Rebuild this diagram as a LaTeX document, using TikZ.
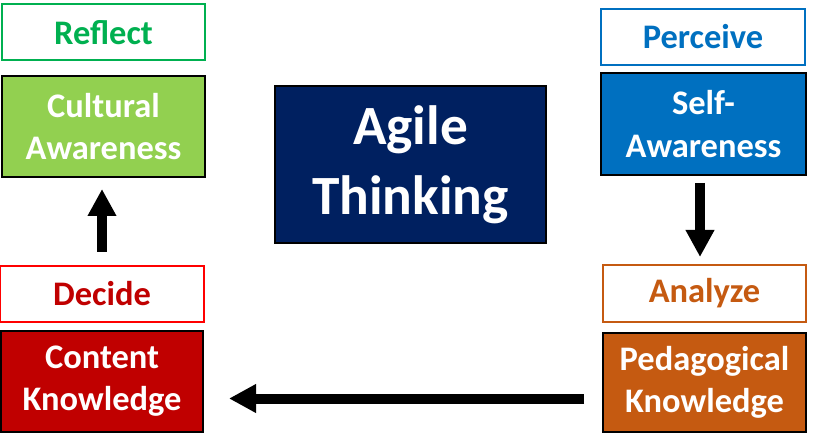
\documentclass[tikz,border=0pt]{standalone}
\usepackage{fontspec}
\setmainfont{Carlito}
\usetikzlibrary{positioning, arrows.meta}
\definecolor{greenEdge}{RGB}{0,176,80}
\definecolor{limeFill}{RGB}{146,208,80}
\definecolor{redDeep}{RGB}{192,0,0}
\definecolor{redEdge}{RGB}{255,0,0}
\definecolor{blueMid}{RGB}{0,112,192}
\definecolor{orangeBurnt}{RGB}{197,90,17}
\definecolor{navyDeep}{RGB}{0,32,96}

\begin{document}
\begin{tikzpicture}[
    stageBox/.style={draw=black, fill=#1, line width=0.04cm, minimum width=4.06cm,
      minimum height=2.02cm, inner sep=0pt, text=white, align=center,
      font=\bfseries\fontsize{19.6}{24}\selectfont},
    labelBox/.style 2 args={draw=#1, fill=white, line width=0.04cm, minimum width=4.06cm,
      minimum height=1.12cm, inner sep=0pt, text=#2,
      font=\bfseries\fontsize{19.6}{24}\selectfont},
    flowArrow/.style={line width=0.2cm, -{Triangle[length=0.54cm, width=0.54cm]}}
  ]
  \useasboundingbox (0,0) rectangle (16.4,-8.9);
  % left column
  \node[labelBox={greenEdge}{greenEdge}] (reflect) at (2.07,-0.65) {Reflect};
  \node[stageBox=limeFill] (cultural) at (2.07,-2.53) {Cultural\\Awareness};
  \node[labelBox={redEdge}{redDeep}] (decide) at (2.04,-5.88) {Decide};
  \node[stageBox=redDeep, minimum width=4.04cm] (content) at (2.04,-7.63) {Content\\Knowledge};
  % right column
  \node[labelBox={blueMid}{blueMid}, minimum width=4.08cm] (perceive) at (14.06,-0.74) {Perceive};
  \node[stageBox=blueMid, minimum width=4.10cm, minimum height=2.04cm] (self) at (14.07,-2.48) {Self-\\Awareness};
  \node[labelBox={orangeBurnt}{orangeBurnt}, minimum height=1.14cm] (analyze) at (14.09,-5.87) {Analyze};
  \node[stageBox=orangeBurnt, minimum height=1.98cm] (pedagogical) at (14.09,-7.65) {Pedagogical\\Knowledge};
  % centre
  \node[stageBox=navyDeep, minimum width=5.42cm, minimum height=3.14cm,
    font=\bfseries\fontsize{31.5}{40}\selectfont] (agile) at (8.21,-3.29) {Agile\\Thinking};
  % cycle arrows
  \draw[flowArrow] ([yshift=0.26cm]decide.north) -- ([yshift=-0.22cm]decide.north |- cultural.south);
  \draw[flowArrow] ([xshift=-0.07cm,yshift=-0.14cm]self.south) -- ([xshift=-0.07cm,yshift=0.14cm]self.south |- analyze.north);
  \draw[flowArrow] ([xshift=-0.36cm,yshift=-0.32cm]pedagogical.west) -- ([xshift=0.5cm,yshift=-0.32cm]content.east |- pedagogical.west);
\end{tikzpicture}
\end{document}
